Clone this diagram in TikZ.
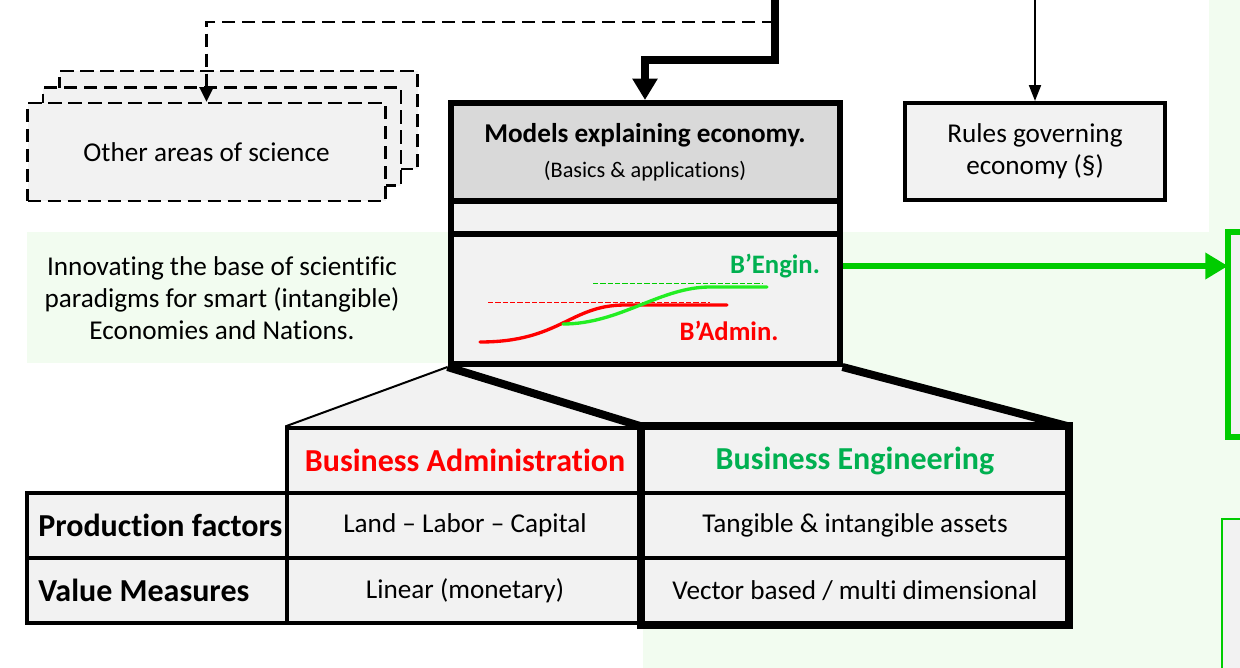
\documentclass[tikz,border=0pt]{standalone}
\usepackage{fontspec}
\setmainfont{Carlito}[Ligatures={TeX,NoCommon}]
\usetikzlibrary{arrows.meta}
\pgfdeclarelayer{bg}
\pgfsetlayers{bg,main}
\definecolor{lgray}{HTML}{F2F2F2}
\definecolor{mgray}{HTML}{D9D9D9}
\definecolor{bgreen}{HTML}{F2FCF0}
\definecolor{tgreen}{HTML}{00B050}
\definecolor{lgreen}{HTML}{00CC00}
\definecolor{cgreen}{HTML}{22EE22}
\begin{document}
\begin{tikzpicture}[x=0.75pt,y=-0.75pt]
    \tikzstyle{txt}=[font=\fontsize{20.4}{24}\selectfont, align=center, inner sep=0pt];
    \tikzstyle{dbox}=[txt, draw=black, line width=2pt, dash pattern=on 10pt off 5pt, fill=lgray, minimum width=268.5pt, minimum height=73.5pt];
    \tikzstyle{mbox}=[txt, draw=black, line width=4.5pt, fill=lgray, minimum width=291.75pt];
    \tikzstyle{cell}=[txt, draw=black, line width=2.4pt, fill=lgray, minimum height=48.75pt];
    \tikzstyle{head}=[cell, font=\fontsize{24}{28}\selectfont\bfseries];
    \tikzstyle{tag}=[txt, font=\fontsize{20}{24}\selectfont\bfseries];

    \useasboundingbox (0,0) rectangle (1240,668);
    \clip (0,0) rectangle (1240,668);

	\node (otherc) at (238.5,120) [dbox] {};
	\node (otherb) at (222,136.5) [dbox] {};
	\node (other) at (206.5,152) [dbox] {Other areas of science};

	\node (models) at (645,152) [mbox, fill=mgray, minimum height=73.5pt] {\textbf{Models explaining economy.}\\[2pt] {\fontsize{16.7}{20}\selectfont (Basics \& applications)}};
	\node (band) at (645,217.5) [mbox, minimum height=24.75pt] {};
	\node (curves) at (645,299) [mbox, minimum height=97.5pt] {};
	\node (rules) at (1035,151.5) [txt, draw=black, line width=3pt, fill=lgray, minimum width=195pt, minimum height=72.75pt] {Rules governing\\economy (§)};

	\node (innov) at (222,298) [txt] {Innovating the base of scientific\\paradigms for smart (intangible)\\Economies and Nations.};

	\node (target) at (1314,334.5) [draw=lgreen, line width=4.5pt, fill=lgray, minimum width=129pt, minimum height=153.75pt] {};
	\node (lowbox) at (1311,659.5) [draw=lgreen, line width=1.5pt, fill=lgray, minimum width=133.5pt, minimum height=210.75pt] {};

	\node (bahead) at (465,460.5) [head, text=red, minimum width=267pt] {Business Administration};
	\node (behead) at (855,460.5) [head, text=tgreen, minimum width=318pt] {Business Engineering};
	\node (pf) at (157,525.5) [head, minimum width=195pt] {\makebox[178pt][l]{Production factors}};
	\node (vm) at (157,590.5) [head, minimum width=195pt] {\makebox[178pt][l]{Value Measures}};
	\node (ba1) at (465,525.5) [cell, minimum width=267pt] {Land -- Labor -- Capital};
	\node (be1) at (855,525.5) [cell, minimum width=318pt] {Tangible \& intangible assets};
	\node (ba2) at (465,590.5) [cell, minimum width=267pt] {Linear (monetary)};
	\node (be2) at (855,590.5) [cell, minimum width=318pt] {Vector based / multi dimensional};
	\draw[line width=6pt] (behead.north west) rectangle (be2.south east);

    \begin{pgfonlayer}{bg}
	\fill[bgreen] (27,232) rectangle (1240,363);
	\fill[bgreen] (643,363) rectangle (1240,668);
	\fill[bgreen] (1209,0) rectangle (1240,232);
	\fill[lgray] (curves.south west) -- (bahead.north west) -- (bahead.north east) -- cycle;
	\fill[lgray] (curves.south west) -- (curves.south east) -- (behead.north east) -- (behead.north west) -- cycle;
	\draw[line width=1.5pt] (curves.south west) -- (bahead.north west);
	\draw[line width=6pt] (curves.south west) -- (behead.north west);
	\draw[line width=6pt] (curves.south east) -- (behead.north east);
    \end{pgfonlayer}

	\draw[red, line width=0.75pt, dash pattern=on 4pt off 1.5pt] (488,302) -- (710,302);
	\draw[lgreen, line width=0.75pt, dash pattern=on 4pt off 1.5pt] (593,283) -- (763,283);
	\draw[red, line width=2.5pt, line cap=round] (480,342) .. controls (560,342) and (570,305) .. (625,305) -- (727,305);
	\draw[cgreen, line width=2.5pt, line cap=round] (563,324) .. controls (620,324) and (660,287) .. (710,287) -- (767,287);
	\node (engin) at (775,266) [tag, text=tgreen] {B’Engin.};
	\node (admin) at (729,331) [tag, text=red] {B’Admin.};

	\coordinate (src) at (775,-5);
	\coordinate (bend) at (645,60);
	\coordinate (dsrc) at (775,22);
	\coordinate (rsrc) at (1035,-5);
	\coordinate (gin) at (1228,266);
	\draw[line width=2pt, dash pattern=on 10pt off 5pt, -{Triangle[length=11pt,width=10.5pt]}] (dsrc) -| (other.north);
	\draw[line width=6pt, -{Triangle[length=16pt,width=18pt]}] (src) |- (bend) -- (models.north);
	\draw[line width=1.5pt, -{Triangle[length=12pt,width=9pt]}] (rsrc) -- (rules.north);
	\draw[lgreen, line width=4.5pt, -{Triangle[length=17pt,width=19pt]}] (curves.east |- gin) -- (gin);
\end{tikzpicture}
\end{document}
